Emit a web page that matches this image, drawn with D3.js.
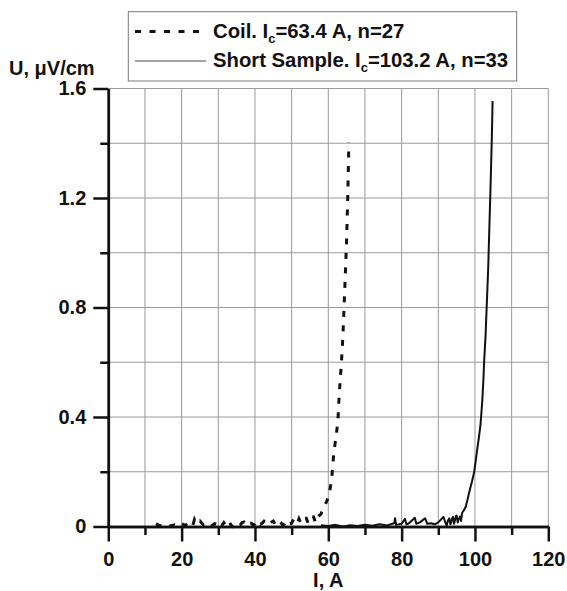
<!DOCTYPE html>
<html>
<head>
<meta charset="utf-8">
<script src="https://cdn.jsdelivr.net/npm/d3@7"></script>
<style>
  html, body { margin: 0; padding: 0; background: #fff; }
  svg { display: block; }
  text { font-family: "Liberation Sans", Arial, Helvetica, sans-serif; font-weight: bold; fill: #111; }
</style>
</head>
<body>
<svg id="chart" width="567" height="591"></svg>
<script>
// ---- data ----
const xMajorTicks = [0, 20, 40, 60, 80, 100, 120];
const xMinorTicks = [10, 30, 50, 70, 90, 110];
const yMajorTicks = [0, 0.4, 0.8, 1.2, 1.6];
const yMinorTicks = [0.2, 0.6, 1.0, 1.4];

const xLabel = "I, A";
const yLabel = "U, μV/cm";

const coilName = ["Coil. I", "c", "=63.4 A, n=27"];
const sampleName = ["Short Sample. I", "c", "=103.2 A, n=33"];

// Coil: current (A)
const coilI = [13, 14, 15, 16, 17, 18, 19, 20, 21, 22, 23, 23.5, 24, 25, 26, 27, 28, 29, 30, 30.5,
  31, 31.5, 32, 32.5, 33, 33.5, 34, 34.5, 35, 35.5, 36, 36.5, 37, 37.5, 38, 38.5, 39, 39.5, 40, 40.5,
  41, 41.5, 42, 42.5, 43, 43.5, 44, 44.5, 45, 45.5, 46, 46.5, 47, 47.5, 48, 48.5, 49, 49.5, 50, 50.5,
  51, 51.5, 52, 52.5, 53, 53.5, 54, 54.5, 55, 55.5, 56, 56.5, 57, 57.5, 58, 58.6, 59.5, 60.2, 60.9, 61.5,
  62.1, 62.6, 63.0, 63.6, 64.0, 64.3, 64.7, 65.0, 65.3, 65.6];
// Coil: voltage (µV/cm)
const coilU = [0.010, 0.004, 0.000, 0.008, 0.002, 0.006, 0.000, 0.010, 0.004, 0.015, 0.002, 0.025, 0.010, 0.020, 0.005, 0.012, 0.001, 0.010, 0.006, 0.016,
  0.004, 0.014, 0.003, 0.012, 0.018, 0.004, 0.000, 0.010, 0.010, 0.002, 0.006, 0.014, 0.016, 0.004, 0.004, 0.012, 0.012, 0.006, 0.008, 0.018,
  0.020, 0.008, 0.012, 0.020, 0.018, 0.006, 0.010, 0.016, 0.020, 0.008, 0.012, 0.022, 0.016, 0.006, 0.008, 0.018, 0.022, 0.010, 0.012, 0.026,
  0.020, 0.010, 0.028, 0.012, 0.015, 0.030, 0.030, 0.012, 0.020, 0.036, 0.035, 0.014, 0.030, 0.040, 0.045, 0.066, 0.090, 0.115, 0.170, 0.268,
  0.328, 0.381, 0.487, 0.603, 0.700, 0.804, 0.940, 1.050, 1.200, 1.402];

// Short sample: current (A)
const sampleI = [58, 60, 62, 64, 66, 68, 70, 72, 74, 76, 78, 78.2, 78.5, 80, 80.9, 81.3, 82, 83.6, 84, 85,
  86.4, 87, 88, 89, 90, 91.4, 92, 92.3, 92.6, 93, 93.3, 93.5, 93.8, 94, 94.3, 94.5, 94.8, 95, 95.3, 95.5,
  95.9, 96.2, 96.5, 97.0, 97.5, 98.0, 98.6, 99.2, 99.8, 100.4, 101.1, 101.5, 102.0, 102.3, 102.5, 102.9, 103.2, 103.6, 103.9, 104.3,
  104.6, 104.8];
// Short sample: voltage (µV/cm)
const sampleU = [0.005, 0.002, 0.006, 0.000, 0.005, 0.002, 0.006, 0.003, 0.008, 0.004, 0.012, 0.030, 0.006, 0.010, 0.028, 0.008, 0.012, 0.032, 0.010, 0.015,
  0.030, 0.010, 0.012, 0.008, 0.015, 0.035, 0.012, 0.004, 0.020, 0.030, 0.008, 0.015, 0.030, 0.035, 0.010, 0.020, 0.038, 0.040, 0.015, 0.025,
  0.036, 0.020, 0.050, 0.060, 0.072, 0.100, 0.134, 0.165, 0.200, 0.260, 0.328, 0.370, 0.460, 0.536, 0.603, 0.700, 0.804, 0.940, 1.080, 1.267,
  1.420, 1.554];

// ---- drawing ----
const svg = d3.select("#chart");
const W = 567, H = 591;
svg.append("rect").attr("width", W).attr("height", H).attr("fill", "#fff");

const x = d3.scaleLinear().domain([0, 120]).range([108.3, 548.3]);
const y = d3.scaleLinear().domain([0, 1.6]).range([526.5, 88.5]);

const gridColor = "#9a9a9a";
const grid = svg.append("g");
grid.selectAll("line.v").data(xMajorTicks.concat(xMinorTicks).filter(d => d > 0))
  .join("line")
  .attr("x1", d => x(d)).attr("x2", d => x(d))
  .attr("y1", y(0)).attr("y2", y(1.6))
  .attr("stroke", gridColor).attr("stroke-width", 1);
grid.selectAll("line.h").data(yMajorTicks.concat(yMinorTicks).filter(d => d > 0))
  .join("line")
  .attr("x1", x(0)).attr("x2", x(120))
  .attr("y1", d => y(d)).attr("y2", d => y(d))
  .attr("stroke", gridColor).attr("stroke-width", 1);

const line = d3.line().x(d => x(d[0])).y(d => y(d[1]));

const coilData = coilI.map((v, i) => [v, coilU[i]]);
const sampleData = sampleI.map((v, i) => [v, sampleU[i]]);

svg.append("path").datum(sampleData)
  .attr("d", line)
  .attr("fill", "none").attr("stroke", "#111").attr("stroke-width", 2)
  .attr("stroke-linejoin", "round");

svg.append("path").datum(coilData)
  .attr("d", line)
  .attr("fill", "none").attr("stroke", "#111").attr("stroke-width", 3)
  .attr("stroke-dasharray", "6,8.5");

// axes
function styleAxis(g) {
  g.select(".domain").attr("stroke", "#111").attr("stroke-width", 2.5);
  g.selectAll(".tick line").attr("stroke", "#111").attr("stroke-width", 2.5);
  g.selectAll(".tick text").attr("font-size", 20).attr("font-weight", "bold")
    .attr("font-family", "'Liberation Sans', Arial, sans-serif").attr("fill", "#111");
}

const yFmt = d => d === 0 ? "0" : d3.format(".1f")(d);

svg.append("g").attr("transform", `translate(${x(0)},0)`)
  .call(d3.axisLeft(y).tickValues(yMinorTicks).tickSize(8).tickSizeOuter(0).tickFormat(""))
  .call(styleAxis);
svg.append("g").attr("transform", `translate(${x(0)},0)`)
  .call(d3.axisLeft(y).tickValues(yMajorTicks).tickSize(15).tickSizeOuter(0).tickPadding(7).tickFormat(yFmt))
  .call(styleAxis);

svg.append("g").attr("transform", `translate(0,${y(0)})`)
  .call(d3.axisBottom(x).tickValues(xMinorTicks).tickSize(8.5).tickSizeOuter(0).tickFormat(""))
  .call(styleAxis);
const xAx = svg.append("g").attr("transform", `translate(0,${y(0)})`)
  .call(d3.axisBottom(x).tickValues(xMajorTicks).tickSize(15).tickSizeOuter(0).tickPadding(10).tickFormat(d3.format("d")))
  .call(styleAxis);
xAx.selectAll(".tick text").attr("dy", "0.71em");

// axis titles
svg.append("text").attr("x", (x(0) + x(120)) / 2).attr("y", 587)
  .attr("text-anchor", "middle").attr("font-size", 20).text(xLabel);
svg.append("text").attr("x", 9).attr("y", 75)
  .attr("font-size", 20).text(yLabel);

// legend
const lg = svg.append("g");
lg.append("rect").attr("x", 128.3).attr("y", 11.7).attr("width", 388.4).attr("height", 69.3)
  .attr("fill", "#fff").attr("stroke", "#7a7a7a").attr("stroke-width", 1);
lg.append("line").attr("x1", 135).attr("x2", 204).attr("y1", 31.5).attr("y2", 31.5)
  .attr("stroke", "#111").attr("stroke-width", 3).attr("stroke-dasharray", "6,8.5");
lg.append("line").attr("x1", 135).attr("x2", 206).attr("y1", 61).attr("y2", 61)
  .attr("stroke", "#444").attr("stroke-width", 1);

function legendText(parts, yb) {
  const t = lg.append("text").attr("x", 213).attr("y", yb).attr("font-size", 20.3);
  t.append("tspan").text(parts[0]);
  t.append("tspan").attr("font-size", 13).attr("dy", 5).text(parts[1]);
  t.append("tspan").attr("dy", -5).text(parts[2]);
}
legendText(coilName, 37.5);
legendText(sampleName, 67);
</script>
</body>
</html>
